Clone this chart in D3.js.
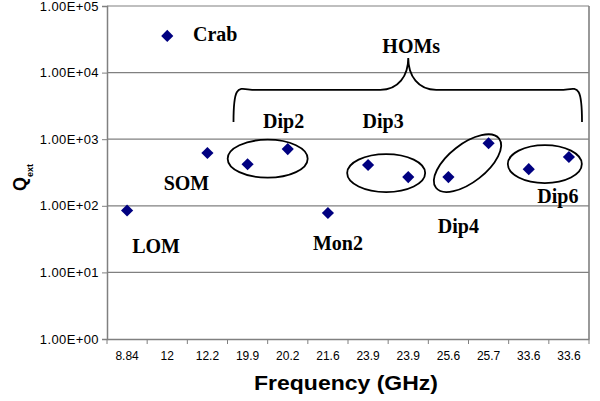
<!DOCTYPE html>
<html><head><meta charset="utf-8">
<script src="https://cdn.jsdelivr.net/npm/d3@7"></script>
<style>body{margin:0;background:#fff}svg{display:block}</style>
</head><body>
<svg id="chart" width="600" height="401"></svg>
<script>
const categories = ["8.84","12","12.2","19.9","20.2","21.6","23.9","23.9","25.6","25.7","33.6","33.6"];
const qext = [85, 35500, 620, 420, 710, 78, 410, 270, 270, 870, 355, 540];
const yTicks = [1, 10, 100, 1000, 10000, 100000];
const labels = [
  {t:"Crab", i:1, v:35500, dx:48, dy:5},
  {t:"SOM", i:2, v:620, dx:-21, dy:37},
  {t:"LOM", i:0, v:85, dx:29, dy:42},
  {t:"Mon2", i:5, v:78, dx:10, dy:37},
  {t:"Dip2", i:3, v:1000, dx:36, dy:-11},
  {t:"Dip3", i:6, v:1000, dx:15, dy:-11},
  {t:"Dip4", i:8, v:100, dx:10, dy:27},
  {t:"Dip6", i:11, v:100, dx:-11, dy:-3},
  {t:"HOMs", i:7, v:10000, dx:3, dy:-20}
];

const svg = d3.select("#chart");
const m = {l:107, r:589, t:6, b:339};
const x = d3.scaleBand().domain(d3.range(categories.length)).range([m.l, m.r]);
const y = d3.scaleLog().domain([1, 100000]).range([m.b, m.t]);

// gridlines
svg.append("g").selectAll("line").data(yTicks.slice(1)).join("line")
  .attr("x1", m.l).attr("x2", m.r).attr("y1", d=>y(d)).attr("y2", d=>y(d))
  .attr("stroke", "#808080").attr("stroke-width", 1.2);
// right border
svg.append("line").attr("x1", m.r).attr("x2", m.r).attr("y1", m.t).attr("y2", m.b)
  .attr("stroke", "#808080").attr("stroke-width", 1.6);

// y axis
const ya = svg.append("g").attr("transform", `translate(${m.l},0)`)
  .call(d3.axisLeft(y).tickValues(yTicks).tickSize(5).tickPadding(3)
    .tickFormat(d => "1.00E+" + String(Math.round(Math.log10(d))).padStart(2,"0")));
ya.select(".domain").attr("stroke", "#808080").attr("stroke-width", 1.5);
ya.selectAll(".tick line").attr("stroke", "#808080");
ya.selectAll("text").attr("font-family", "Liberation Sans, Arial, sans-serif").attr("font-size", 13)
  .attr("letter-spacing", 0.4).attr("fill", "#000");

// x axis
const xa = svg.append("g").attr("transform", `translate(0,${m.b})`)
  .call(d3.axisBottom(x).tickSize(0).tickPadding(12).tickFormat(i => categories[i]));
xa.select(".domain").attr("stroke", "#808080").attr("stroke-width", 1.5);
xa.selectAll("text").attr("font-family", "Liberation Sans, Arial, sans-serif").attr("font-size", 12).attr("fill", "#000");
// x tick marks at band boundaries
svg.append("g").selectAll("line").data(d3.range(categories.length + 1)).join("line")
  .attr("x1", i => m.l + i * x.step()).attr("x2", i => m.l + i * x.step())
  .attr("y1", m.b).attr("y2", m.b + 5).attr("stroke", "#808080");

// points
const cx = i => x(i) + x.bandwidth() / 2;
svg.append("g").selectAll("path").data(qext).join("path")
  .attr("d", d3.symbol(d3.symbolSquare, 74))
  .attr("transform", (d,i) => `translate(${cx(i)},${y(d)}) rotate(45)`)
  .attr("fill", "#000080");

// ellipses (groups)
const groups = [
  {a:3, b:4, rx:40, ry:19, rot:0, dx:0, dy:2},
  {a:6, b:7, rx:39, ry:19, rot:0, dx:-2, dy:2},
  {a:8, b:9, rx:40, ry:19, rot:-38, dx:-1, dy:3},
  {a:10, b:11, rx:37, ry:19, rot:0, dx:-4, dy:1}
];
const gx = g => (cx(g.a) + cx(g.b)) / 2 + g.dx;
const gy = g => (y(qext[g.a]) + y(qext[g.b])) / 2 + g.dy;
svg.append("g").selectAll("ellipse").data(groups).join("ellipse")
  .attr("cx", gx).attr("cy", gy)
  .attr("rx", g => g.rx).attr("ry", g => g.ry)
  .attr("transform", g => `rotate(${g.rot},${gx(g)},${gy(g)})`)
  .attr("fill", "none").attr("stroke", "#000").attr("stroke-width", 1.8);

// brace over HOMs
const bx0 = x(3) + 6, bx1 = x(11) + x.bandwidth() - 7;
const by = y(5500), bend = y(1820), peakY = y(16600);
const bmid = (bx0 + bx1) / 2 + 0.5;
const brace = `M${bx0},${bend} C${bx0},${by-10} ${bx0+6},${by} ${bx0+22},${by}
 L${bmid-28},${by} C${bmid-10},${by} ${bmid},${by-14} ${bmid},${peakY}
 C${bmid},${by-14} ${bmid+10},${by} ${bmid+28},${by}
 L${bx1-22},${by} C${bx1-6},${by} ${bx1},${by-10} ${bx1},${bend}`;
svg.append("path").attr("d", brace).attr("fill", "none").attr("stroke", "#000").attr("stroke-width", 1.8);

// text labels
svg.append("g").selectAll("text").data(labels).join("text")
  .attr("x", d => cx(d.i) + d.dx).attr("y", d => y(d.v) + d.dy)
  .attr("text-anchor", "middle")
  .attr("font-family", "Liberation Serif, Times New Roman, serif")
  .attr("font-weight", "bold").attr("font-size", 20)
  .text(d => d.t);

// axis titles
svg.append("text").attr("x", 346).attr("y", 390).attr("text-anchor", "middle")
  .attr("font-family", "Liberation Sans, Arial, sans-serif").attr("font-weight", "bold")
  .attr("font-size", 20).attr("textLength", 184).attr("lengthAdjust", "spacingAndGlyphs")
  .text("Frequency (GHz)");
const yt = svg.append("text").attr("transform", "translate(26,191) rotate(-90)")
  .attr("text-anchor", "start")
  .attr("font-family", "Liberation Sans, Arial, sans-serif").attr("font-weight", "bold").attr("font-size", 18);
yt.append("tspan").text("Q");
yt.append("tspan").attr("font-size", 9).attr("dy", 7).text("ext");
</script>
</body></html>
